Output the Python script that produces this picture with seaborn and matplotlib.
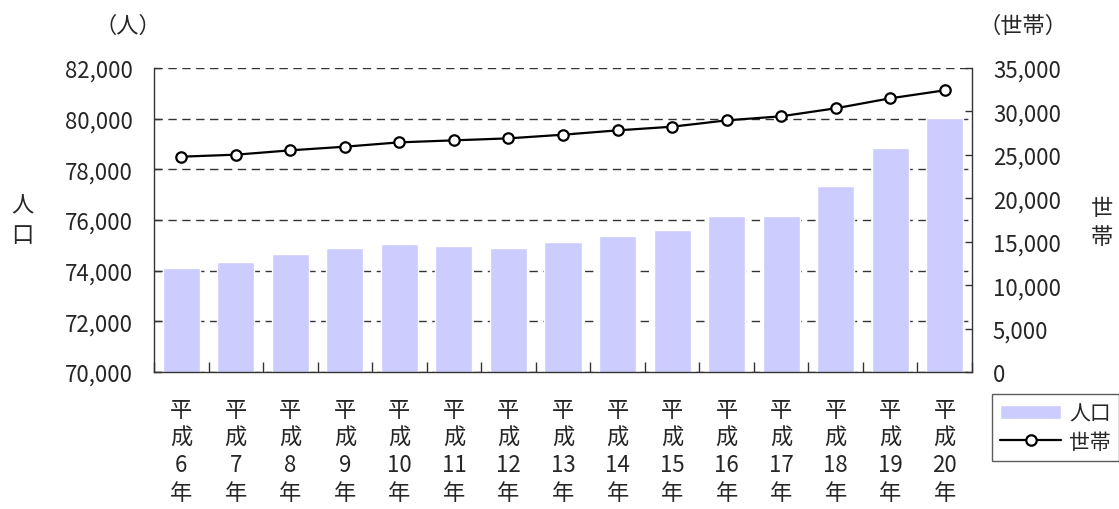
import numpy as np
import pandas as pd
import matplotlib
matplotlib.use("Agg")
import matplotlib.pyplot as plt
import seaborn as sns
from matplotlib.ticker import FuncFormatter

# ── data ──────────────────────────────────────────────────────────────
years = ["6", "7", "8", "9", "10", "11", "12", "13", "14", "15",
         "16", "17", "18", "19", "20"]
population = [74100, 74350, 74650, 74900, 75050, 74980, 74900, 75130,
              75370, 75600, 76150, 76150, 77340, 78840, 80020]
households = [24790, 25020, 25520, 25940, 26440, 26670, 26900, 27320,
              27820, 28240, 28970, 29440, 30360, 31510, 32430]
pop_ticks = [70000, 72000, 74000, 76000, 78000, 80000, 82000]
hh_ticks = [0, 5000, 10000, 15000, 20000, 25000, 30000, 35000]

year_labels = ["平\n成\n" + y + "\n年" for y in years]
df = pd.DataFrame({"year": year_labels, "population": population,
                   "households": households})

sns.set_theme(style="white")
plt.rcParams["font.family"] = ["Noto Sans CJK JP", "DejaVu Sans"]
fs = 16

fig = plt.figure(figsize=(11.19, 5.10), dpi=100)
ax = fig.add_axes([154 / 1119, 1 - 373 / 510, 818 / 1119, 304 / 510])

sns.barplot(data=df, x="year", y="population", color="#ccccff",
            saturation=1, width=0.68, ax=ax, label="人口")
ax.set_ylim(pop_ticks[0], pop_ticks[-1])
ax.set_xlim(-0.5, len(years) - 0.5)
ax.set_yticks(pop_ticks)
ax.yaxis.set_major_formatter(FuncFormatter(lambda v, p: f"{int(v):,}"))
ax.set_xlabel("")
ax.set_ylabel("")
ax.grid(axis="y", color="#333333", lw=1, ls=(0, (6, 4)))
ax.set_axisbelow(True)

# x ticks sit between the bars
ax.set_xticks(np.arange(len(years) + 1) - 0.5, minor=True)
ax.tick_params(axis="x", which="major", length=0, pad=19, labelsize=fs)
ax.tick_params(axis="x", which="minor", direction="in", length=7,
               width=1, color="#333333", bottom=True)
ax.tick_params(axis="y", direction="in", length=5, width=1, pad=15,
               labelsize=fs, left=True, color="#333333")
for t in ax.get_xticklabels():
    t.set_linespacing(1.25)

for s in ["left", "bottom"]:
    ax.spines[s].set_color("#333333")
    ax.spines[s].set_linewidth(1)
ax.spines["top"].set_visible(False)
ax.spines["right"].set_visible(False)

# ── household line on twin axis ──────────────────────────────────────
ax2 = ax.twinx()
sns.lineplot(x=np.arange(len(years)), y=households, ax=ax2, color="black",
             lw=1.6, marker="o", markersize=7.5, markerfacecolor="white",
             markeredgecolor="black", markeredgewidth=1.6, label="世帯")
ax2.set_ylim(hh_ticks[0], hh_ticks[-1])
ax2.set_yticks(hh_ticks)
ax2.yaxis.set_major_formatter(FuncFormatter(lambda v, p: f"{int(v):,}"))
ax2.tick_params(axis="y", direction="in", length=5, width=1, pad=15,
                labelsize=fs, right=True, color="#333333")
ax2.grid(False)
ax2.spines["top"].set_visible(False)
ax2.spines["left"].set_visible(False)
ax2.spines["bottom"].set_visible(False)
ax2.spines["right"].set_color("#333333")
ax2.spines["right"].set_linewidth(1)
ax2.set_ylabel("")

# ── legend ───────────────────────────────────────────────────────────
h1, l1 = ax.get_legend_handles_labels()
h2, l2 = ax2.get_legend_handles_labels()
if ax.get_legend():
    ax.get_legend().remove()
if ax2.get_legend():
    ax2.get_legend().remove()
leg = fig.legend(h1 + h2, l1 + l2, loc="upper left",
                 bbox_to_anchor=(992 / 1119, 1 - 395 / 510),
                 fontsize=15, frameon=True, fancybox=False,
                 handlelength=2.9, handletextpad=0.4, borderpad=0.4,
                 labelspacing=0.3, borderaxespad=0)
leg.get_frame().set_edgecolor("#333333")
leg.get_frame().set_linewidth(1)

# ── axis titles ──────────────────────────────────────────────────────
fig.text(128 / 1119, 1 - 26 / 510, "（人）", fontsize=fs, ha="center", va="center")
fig.text(1023 / 1119, 1 - 26 / 510, "（世帯）", fontsize=fs, ha="center", va="center")
fig.text(22 / 1119, 1 - 221 / 510, "人\n口", fontsize=fs, ha="center",
         va="center", linespacing=1.35)
fig.text(1102 / 1119, 1 - 223 / 510, "世\n帯", fontsize=fs, ha="center",
         va="center", linespacing=1.3)

fig.savefig("out.png", dpi=100)
